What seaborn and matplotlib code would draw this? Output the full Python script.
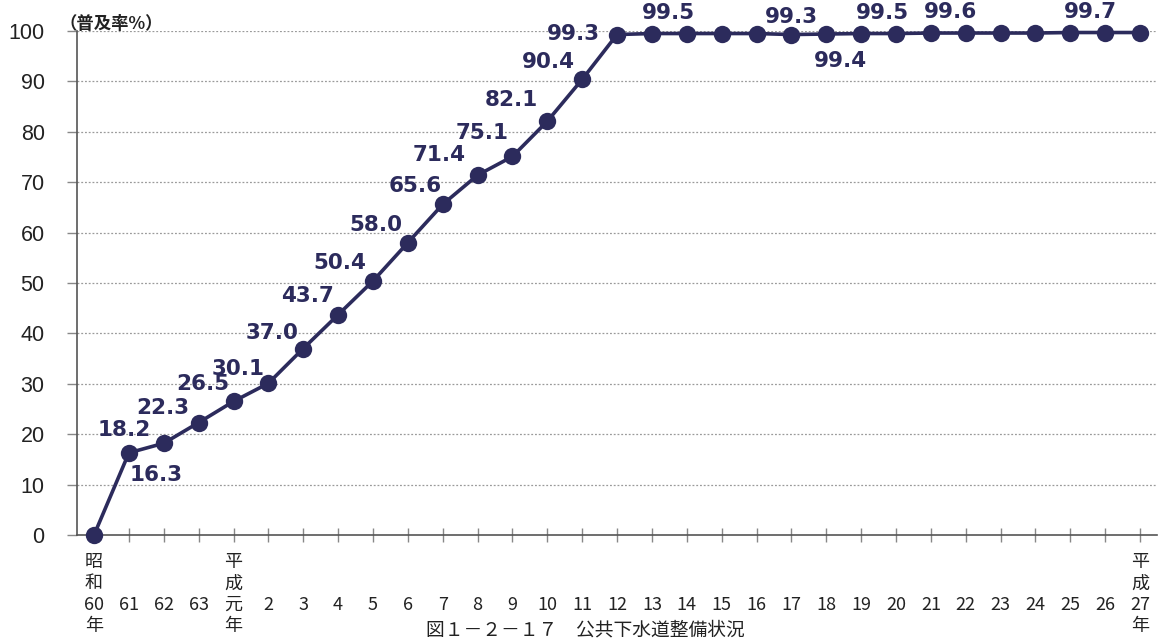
import matplotlib
matplotlib.use("Agg")
import matplotlib.pyplot as plt
import seaborn as sns
import pandas as pd

# 公共下水道普及率（昭和60年〜平成27年）
year_labels = ["昭\n和\n60\n年", "61", "62", "63", "平\n成\n元\n年",
               "2", "3", "4", "5", "6", "7", "8", "9", "10", "11", "12",
               "13", "14", "15", "16", "17", "18", "19", "20", "21", "22",
               "23", "24", "25", "26", "平\n成\n27\n年"]
rates = [0.0, 16.3, 18.2, 22.3, 26.5, 30.1, 37.0, 43.7, 50.4, 58.0, 65.6,
         71.4, 75.1, 82.1, 90.4, 99.3, 99.5, 99.5, 99.5, 99.5, 99.3, 99.4,
         99.5, 99.5, 99.6, 99.6, 99.6, 99.6, 99.7, 99.7, 99.7]
labelled = [1, 2, 3, 4, 5, 6, 7, 8, 9, 10, 11, 12, 13, 14, 15, 16, 20, 21,
            22, 24, 28]
y_ticks = [0, 10, 20, 30, 40, 50, 60, 70, 80, 90, 100]
caption = "図１－２－１７　公共下水道整備状況"

# label offsets (pixels) from each point
label_offsets = {1: (27, -22), 2: (-40, 13), 3: (-36, 15), 4: (-31, 17),
                 5: (-30, 14), 6: (-31, 16), 7: (-31, 19), 8: (-33, 18),
                 9: (-32, 18), 10: (-28, 18), 11: (-38, 20), 12: (-30, 23),
                 13: (-36, 21), 14: (-34, 17), 15: (-44, 1), 16: (17, 21),
                 20: (0, 18), 21: (14, -27), 22: (21, 21), 24: (20, 21),
                 28: (20, 21)}

NAVY = "#2c2b5c"
GRID = "#9a9a9a"
AXIS = "#555555"

sns.set_style("white")
plt.rcParams["font.family"] = ["Noto Sans CJK JP", "DejaVu Sans"]

df = pd.DataFrame({"x": range(len(rates)), "rate": rates})

fig = plt.figure(figsize=(11.59, 6.42), dpi=100)
ax = fig.add_axes([0.0661, 0.1667, 0.9326, 0.7850])

for v in y_ticks[1:]:
    ax.axhline(v, color=GRID, lw=0.9, ls=(0, (1.5, 1.5)), zorder=1)

sns.lineplot(data=df, x="x", y="rate", ax=ax, color=NAVY, lw=2.6,
             marker="o", markersize=12.5, markeredgewidth=0,
             markeredgecolor=NAVY, clip_on=False, zorder=3)

for i in labelled:
    dx, dy = label_offsets[i]
    ax.annotate(f"{rates[i]:.1f}", (i, rates[i]), xytext=(dx, dy),
                textcoords="offset pixels", ha="center", va="center",
                fontsize=15.5, fontweight="bold", color=NAVY,
                family="DejaVu Sans", annotation_clip=False, zorder=4)

ax.set_xlim(-0.5, 30.5)
ax.set_ylim(0, 100)
ax.set_xlabel("")
ax.set_ylabel("")

ax.set_yticks(y_ticks)
ax.set_yticklabels([str(v) for v in y_ticks], family="Liberation Sans",
                   fontsize=15.5, color="#222222")
ax.tick_params(axis="y", direction="out", length=7, width=1,
               color="#888888", pad=16, left=True)

# stacked era labels keep the year numbers on the third line
ax.set_xticks(range(len(rates)))
ax.set_xticklabels([lbl if "\n" in lbl else f"\n\n{lbl}" for lbl in year_labels],
                   fontsize=13, color="#222222", linespacing=1.24)
ax.tick_params(axis="x", direction="inout", length=10, width=1,
               color="#888888", pad=8, bottom=True)

for side in ("top", "right"):
    ax.spines[side].set_visible(False)
for side in ("left", "bottom"):
    ax.spines[side].set_color(AXIS)
    ax.spines[side].set_linewidth(1.2)

fig.text(0.051, 0.963, "（普及率%）", fontsize=12.5, fontweight="bold",
         color="#222222", ha="left", va="center")
fig.text(0.505, 0.002, caption, fontsize=13.5, color="#222222",
         ha="center", va="bottom")

fig.savefig("out.png", dpi=100)
